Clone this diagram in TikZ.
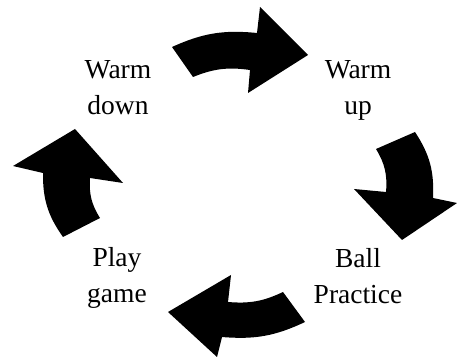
\documentclass[tikz,border=0pt]{standalone}
\usepackage{fontspec}
\setmainfont{Liberation Serif}
\begin{document}
\begin{tikzpicture}[x=1pt,y=1pt,
  cyclearrow/.style={fill=black,draw=none},
  lbl/.style={align=center,inner sep=0pt,anchor=base,font=\fontsize{27.5pt}{36pt}\selectfont}]
\useasboundingbox (0,0) rectangle (457,358);
% labels (anchor = baseline of the last line)
\node[lbl] (wd) at (118,243) {Warm\\down};
\node[lbl] (wu) at (358,243) {Warm\\up};
\node[lbl] (bp) at (358,54) {Ball\\Practice};
\node[lbl] (pg) at (117,55) {Play\\game};
% arrow 1 (top)
\fill[cyclearrow] (172,311) to[bend left=15] (257,325) -- (260,351) -- (308,303) -- (248,265) -- (250,288) to[bend right=15] (193,281) -- cycle;
% arrow 2 (right)
\fill[cyclearrow] (415,226) to[bend left=18] (433,160) -- (457,155) -- (402,118) -- (354,169) -- (386,166) to[bend right=18] (376,209) -- cycle;
% arrow 3 (bottom)
\fill[cyclearrow] (305,36) to[bend left=15] (222,21) -- (217,1) -- (168,46) -- (231,83) -- (228,56) to[bend right=15] (283,66) -- cycle;
% arrow 4 (left)
\fill[cyclearrow] (63,121) to[bend left=18] (43,185) -- (13,192) -- (75,229) -- (123,175) -- (90,180) to[bend right=18] (100,140) -- cycle;
\end{tikzpicture}
\end{document}
